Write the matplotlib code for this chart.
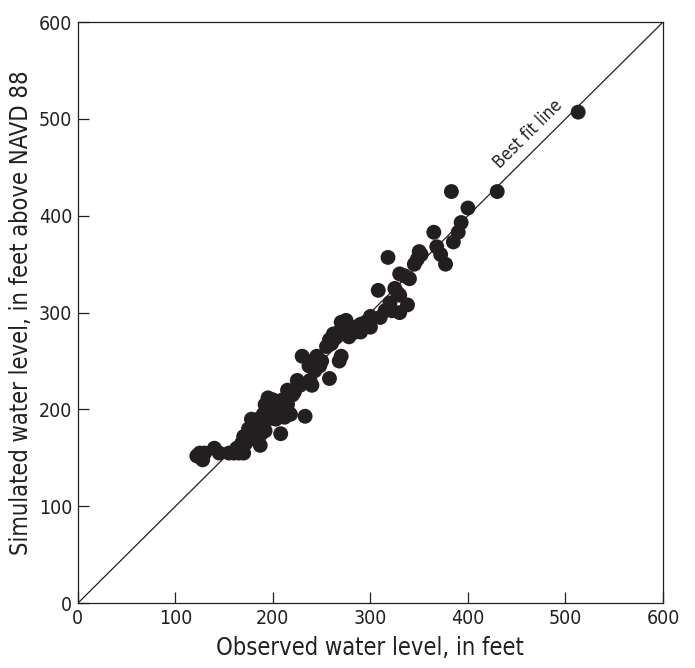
import matplotlib
matplotlib.use("Agg")
import matplotlib.pyplot as plt

plt.rcParams['font.family'] = ['DejaVu Sans']
plt.rcParams['font.stretch'] = 'condensed'

# observed vs simulated water levels (feet)
observed = [513, 430, 383, 400, 393, 390, 385, 377, 372, 368, 365, 350, 352, 348, 345,
            340, 338, 330, 335, 325, 328, 330, 318, 320, 322, 330, 315, 308, 300, 298,
            295, 300, 290, 285, 275, 270, 272, 280, 278, 268, 265, 262, 258, 255, 260,
            270, 268, 258, 245, 240, 237, 243, 240, 238, 230, 233, 225, 228, 220, 215,
            218, 212, 210, 205, 200, 195, 192, 208, 200, 195, 190, 185, 183, 180, 187,
            175, 170, 168, 163, 165, 160, 170, 155, 145, 140, 130, 125, 122, 128,
            190, 185, 180, 178, 195, 198, 205, 215, 222, 250, 248, 285, 290, 310, 175, 172,
            182, 188, 178, 173, 192, 203, 212]
simulated = [507, 425, 425, 408, 393, 383, 373, 350, 360, 368, 383, 363, 360, 355, 350,
             335, 308, 340, 338, 325, 320, 318, 357, 310, 302, 300, 302, 323, 296, 292,
             290, 285, 288, 285, 292, 290, 285, 282, 275, 280, 275, 278, 272, 265, 268,
             255, 250, 232, 255, 250, 245, 240, 225, 230, 255, 193, 230, 225, 215, 205,
             195, 192, 210, 208, 210, 212, 205, 175, 195, 190, 185, 180, 175, 170, 163,
             175, 172, 165, 160, 155, 155, 155, 155, 155, 160, 155, 155, 152, 148,
             195, 190, 185, 180, 200, 205, 200, 220, 218, 250, 245, 280, 280, 295, 180, 165,
             170, 175, 190, 168, 178, 190, 200]

fig = plt.figure(figsize=(6.95, 6.68), dpi=100)
ax = fig.add_axes([0.112, 0.097, 0.842, 0.870])

ax.plot([0, 600], [0, 600], color='#231f20', lw=0.9, zorder=1)
ax.scatter(observed, simulated, s=115, color='#231f20', edgecolors='none', zorder=2)
ax.text(462, 484, 'Best fit line', rotation=44.8, ha='center', va='center',
        fontsize=12.5, color='#231f20', rotation_mode='anchor')

ax.set_xlim(0, 600)
ax.set_ylim(0, 600)
ax.set_xticks(range(0, 601, 100))
ax.set_yticks(range(0, 601, 100))
ax.tick_params(direction='in', length=8, width=0.9, labelsize=14, colors='#231f20', pad=4)
for sp in ax.spines.values():
    sp.set_linewidth(0.9)
    sp.set_color('#231f20')
ax.set_xlabel('Observed water level, in feet', fontsize=17, color='#231f20', labelpad=6)
ax.set_ylabel('Simulated water level, in feet above NAVD 88', fontsize=17, color='#231f20', labelpad=4)

fig.savefig('out.png', dpi=100)
